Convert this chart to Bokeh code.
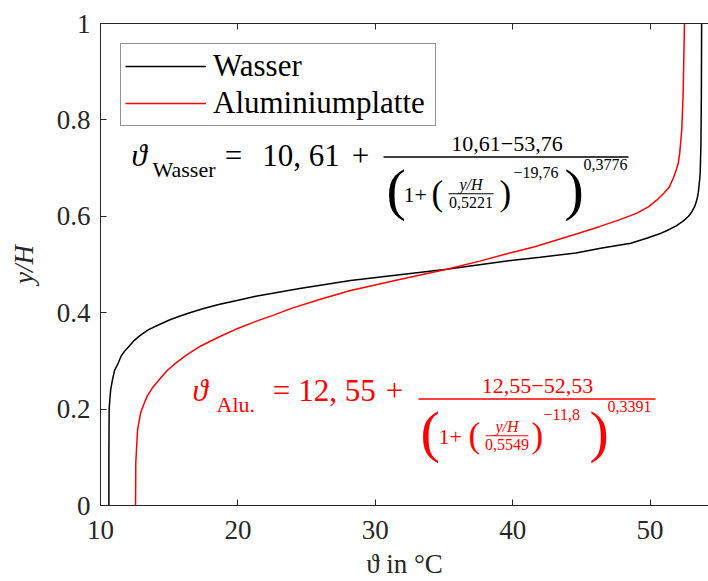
from bokeh.plotting import figure
from bokeh.models import (Range1d, FixedTicker, LinearAxis, Label, Legend,
                          LegendItem, CustomJSTickFormatter)
from bokeh.embed import file_html
from bokeh.resources import INLINE

# ---- data ----
series_names = ["Wasser", "Aluminiumplatte"]

y_wasser = [0.0, 0.10, 0.20, 0.22, 0.24, 0.262, 0.28, 0.296, 0.31, 0.32,
            0.331, 0.341, 0.351, 0.358, 0.365, 0.375, 0.386, 0.393, 0.40,
            0.408, 0.417, 0.425, 0.434, 0.45, 0.467, 0.49, 0.508, 0.515,
            0.524, 0.534, 0.544, 0.555, 0.565, 0.57, 0.58, 0.59, 0.60, 0.61,
            0.62, 0.63, 0.64, 0.65, 0.661, 0.68, 0.695, 0.75, 0.85, 1.0]
t_wasser = [10.61, 10.61, 10.63, 10.68, 10.74, 10.88, 11.02, 11.3, 11.5, 11.75,
            12.1, 12.4, 12.8, 13.15, 13.5, 14.25, 15.1, 15.8, 16.5,
            17.45, 18.6, 19.85, 21.3, 24.5, 28.2, 35.2, 39.7, 42.0,
            44.6, 46.5, 48.6, 49.8, 50.8, 51.2, 51.9, 52.4, 52.8, 53.05,
            53.24, 53.36, 53.45, 53.51, 53.55, 53.62, 53.65, 53.7, 53.73, 53.75]

y_alu = [0.0, 0.09, 0.158, 0.193, 0.21, 0.227, 0.245, 0.262, 0.28, 0.296,
         0.313, 0.331, 0.348, 0.365, 0.382, 0.395, 0.41, 0.428, 0.446, 0.468,
         0.49, 0.507, 0.524, 0.537, 0.551, 0.565, 0.5785, 0.592, 0.606, 0.62,
         0.634, 0.648, 0.661, 0.68, 0.696, 0.71, 0.73, 0.778, 0.85, 0.92, 1.0]
t_alu = [12.55, 12.57, 12.7, 12.93, 13.15, 13.4, 13.8, 14.3, 14.85, 15.5,
         16.3, 17.3, 18.5, 19.8, 21.3, 22.6, 24.0, 26.0, 28.2, 31.6,
         35.2, 37.6, 39.8, 41.6, 43.2, 44.8, 46.3, 47.7, 49.0, 49.9,
         50.5, 51.0, 51.4, 51.7, 51.9, 52.05, 52.15, 52.3, 52.4, 52.45, 52.5]

x_ticks = [10, 20, 30, 40, 50]
y_ticks = [0, 0.2, 0.4, 0.6, 0.8, 1]
y_tick_labels = ["0", "0.2", "0.4", "0.6", "0.8", "1"]

# ---- layout ----
W, H = 708, 581
L, R, T, B = 100, 708, 23, 507
X0, X1 = 10, 54.25
FONT = "Liberation Serif, DejaVu Serif"
AX = "#262626"
RED = "#ff0000"

p = figure(width=W, height=H, x_range=Range1d(X0, X1), y_range=Range1d(0, 1),
           output_backend="svg", toolbar_location=None,
           min_border_left=L, min_border_right=W - R, min_border_top=T,
           min_border_bottom=H - B)
p.outline_line_color = None
p.xgrid.visible = False
p.ygrid.visible = False
p.background_fill_color = "white"
p.border_fill_color = "white"


def style_axis(ax):
    ax.axis_line_color = AX
    ax.axis_line_width = 1
    ax.major_tick_line_color = AX
    ax.major_tick_in = 6
    ax.major_tick_out = 0
    ax.minor_tick_line_color = None
    ax.major_label_text_font = FONT
    ax.major_label_text_font_size = "27px"
    ax.major_label_text_color = AX
    ax.axis_label_text_font = FONT
    ax.axis_label_text_font_size = "27px"
    ax.axis_label_text_color = AX


xa = p.xaxis[0]
style_axis(xa)
xa.ticker = FixedTicker(ticks=x_ticks)
xa.major_label_standoff = 15
xa.axis_label = "ϑ in °C"
xa.axis_label_text_font_style = "normal"
xa.axis_label_standoff = 7

ya = p.yaxis[0]
style_axis(ya)
ya.ticker = FixedTicker(ticks=y_ticks)
ya.major_label_overrides = {t: s for t, s in zip(y_ticks, y_tick_labels)}
ya.major_label_standoff = 10
ya.axis_label = "y/H"
ya.axis_label_text_font_style = "italic"
ya.axis_label_standoff = 15

top = LinearAxis(ticker=FixedTicker(ticks=x_ticks),
                 formatter=CustomJSTickFormatter(code="return ''"))
style_axis(top)
top.major_label_text_font_size = "0px"
top.major_label_standoff = 0
p.add_layout(top, "above")

# ---- curves ----
r1 = p.line(t_wasser, y_wasser, line_color="black", line_width=1.5)
r2 = p.line(t_alu, y_alu, line_color=RED, line_width=1.5)

legend = Legend(items=[LegendItem(label=series_names[0], renderers=[r1]),
                       LegendItem(label=series_names[1], renderers=[r2])],
                location="top_left", margin=20, padding=4, spacing=1,
                label_height=30, glyph_height=30, glyph_width=81,
                label_standoff=7, label_width=218,
                label_text_font=FONT, label_text_font_size="31px",
                label_text_color="black", label_text_baseline="middle",
                border_line_color=AX, border_line_width=1,
                background_fill_color="white", background_fill_alpha=1.0)
p.add_layout(legend)


# ---- formula annotations (pixel positions converted to data space) ----
def dx(px):
    return X0 + (px - L) / (R - L) * (X1 - X0)


def dy(py):
    return (B - py) / (B - T)


def lab(px, base, text, size, color, style="normal", align="left"):
    # base = wanted alphabetic baseline (pixels from top); text is centred
    mid = base - 0.35 * size
    p.add_layout(Label(x=dx(px), y=dy(mid), text=text, text_font=FONT,
                       text_font_size=f"{size}px", text_color=color,
                       text_font_style=style, text_align=align,
                       text_baseline="middle"))


def bar(px0, px1, py, color, w):
    p.segment(x0=[dx(px0)], y0=[dy(py)], x1=[dx(px1)], y1=[dy(py)],
              line_color=color, line_width=w)


def formula(c, dyo, name, a, num, inner_den, exp_in, exp_out, geo):
    (mb, th_x, sub_x, eq_c, a_c, plus_c, bar0, bar1, num_c, bigl, onep, midl,
     frac_c, ibar0, ibar1, midr, expin_x, bigr, expout_x) = geo
    lab(th_x, mb, "ϑ", 31, c, "italic")
    lab(sub_x, mb + 11, name, 22, c)
    lab(eq_c, mb, "=", 31, c, align="center")
    lab(a_c, mb, a, 31, c, align="center")
    lab(plus_c, mb, "+", 31, c, align="center")
    lab(num_c, dyo + 152, num, 22, c, align="center")
    bar(bar0, bar1, dyo + 157, c, 1.6)
    lab(bigl, dyo + 210, "(", 58, c)
    lab(onep, dyo + 203, "1+", 22, c)
    lab(midl, dyo + 206, "(", 35, c)
    lab(frac_c, dyo + 190, "y/H", 16, c, "italic", align="center")
    bar(ibar0, ibar1, dyo + 194, c, 1.1)
    lab(frac_c, dyo + 208, inner_den, 16, c, align="center")
    lab(midr, dyo + 206, ")", 35, c)
    lab(expin_x, dyo + 178, exp_in, 16, c)
    lab(bigr, dyo + 210, ")", 58, c)
    lab(expout_x, dyo + 170, exp_out, 16, c)


formula("black", 0, "Wasser", "10, 61", "10,61\u221253,76", "0,5221",
        "\u221219,76", "0,3776",
        (166, 131, 152, 233, 300.5, 360, 383, 628, 506.5, 386, 403, 431,
         470.5, 448, 493, 499, 513, 564, 583))

formula(RED, 243, "Alu.", "12, 55", "12,55\u221252,53", "0,5549",
        "\u221211,8", "0,3391",
        (402, 192, 216, 281, 336.5, 394, 418, 655, 537, 420, 438, 468,
         506.5, 485, 528, 531, 543, 589, 607))

open("out.html", "w").write(file_html(p, INLINE))
